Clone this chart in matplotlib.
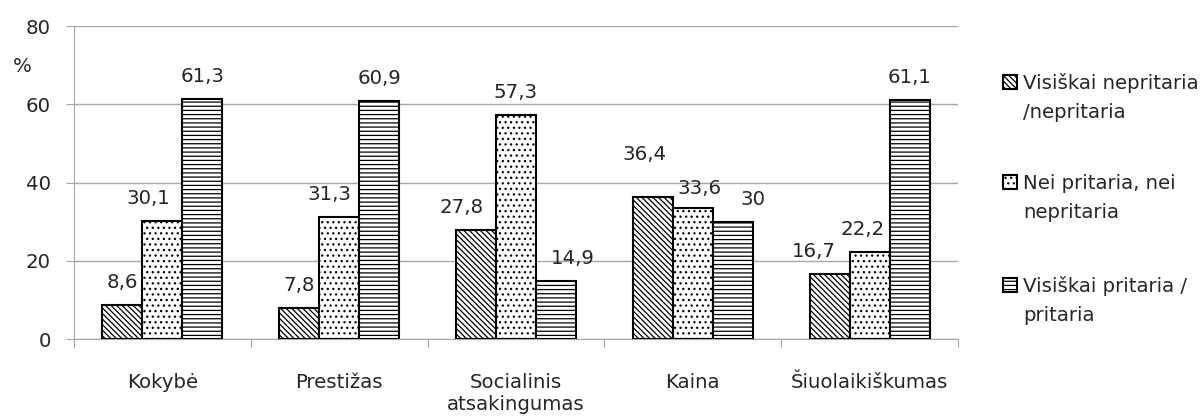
import matplotlib.pyplot as plt
from matplotlib.patches import Rectangle
import numpy as np

categories = ["Kokybė", "Prestižas", "Socialinis\natsakingumas", "Kaina", "Šiuolaikiškumas"]
series_names = ["Visiškai nepritaria\n/nepritaria", "Nei pritaria, nei\nnepritaria", "Visiškai pritaria /\npritaria"]
disagree = [8.6, 7.8, 27.8, 36.4, 16.7]
neutral = [30.1, 31.3, 57.3, 33.6, 22.2]
agree = [61.3, 60.9, 14.9, 30, 61.1]

hatches = ["\\\\\\\\\\\\", "...", "----"]
# label nudges in pixels (dx per category/series, extra lift for one crowded label)
label_dx = [[0, -14, 0], [0, -10, 0], [-14, 0, 17], [-8, 7, 20], [-16, -7, 0]]
label_dy = [[0, 0, 0], [0, 0, 0], [0, 0, 0], [20, -3, 0], [0, 0, 0]]

FS = 14.2
TXT = "#262626"
plt.rcParams["font.family"] = ["DejaVu Sans"]
plt.rcParams["hatch.linewidth"] = 0.9

W, H = 1204, 419
fig = plt.figure(figsize=(W / 100, H / 100), dpi=100)
ax = fig.add_axes([74 / W, 1 - 339 / H, (958 - 74) / W, (339 - 26) / H])

x = np.arange(len(categories))
width = 0.226
series = [disagree, neutral, agree]
for i, vals in enumerate(series):
    b = ax.bar(x + (i - 1) * width, vals, width, color="white", edgecolor="black",
               linewidth=1.5, hatch=hatches[i], zorder=3)
    for j, (rect, v) in enumerate(zip(b, vals)):
        txt = f"{v:g}".replace(".", ",")
        ax.annotate(txt, (rect.get_x() + rect.get_width() / 2, v),
                    xytext=(label_dx[j][i], 17 + label_dy[j][i]), textcoords="offset pixels",
                    ha="center", va="baseline", fontsize=FS, color=TXT)

ax.set_xlim(-0.5, len(categories) - 0.5)
ax.set_ylim(0, 80)
ax.set_yticks(range(0, 81, 20))
ax.yaxis.grid(True, color="#a6a6a6", linewidth=1)
ax.set_axisbelow(True)
for s in ["top", "right"]:
    ax.spines[s].set_visible(False)
ax.spines["left"].set_color("#a6a6a6")
ax.spines["bottom"].set_color("#a6a6a6")
ax.spines["left"].set_bounds(-2.05, 80)

# category ticks on the boundaries, labels at the centres
ax.set_xticks(np.arange(-0.5, len(categories), 1.0))
ax.set_xticklabels([])
ax.set_xticks(x, minor=True)
ax.set_xticklabels(categories, minor=True, fontsize=FS, color=TXT, linespacing=1.2)
ax.tick_params(axis="x", which="major", length=5.8, color="#a6a6a6", direction="out")
ax.tick_params(axis="x", which="minor", length=0, pad=24.5)
ax.tick_params(axis="y", length=5.8, color="#a6a6a6", labelsize=FS, labelcolor=TXT, pad=11)

fig.text(13 / W, 1 - 67 / H, "%", fontsize=FS, color=TXT, ha="left", va="center")

# legend: square swatch next to the first line of each two-line entry
legend_rows = [82, 182, 285]
for name, hatch, yc in zip(series_names, hatches, legend_rows):
    fig.patches.append(Rectangle((1003 / W, 1 - (yc + 7) / H), 14 / W, 14 / H,
                                 transform=fig.transFigure, facecolor="white",
                                 edgecolor="black", linewidth=1.5, hatch=hatch))
    for k, line in enumerate(name.split("\n")):
        fig.text(1023 / W, 1 - (yc + 7 + 29 * k) / H, line, fontsize=FS, color=TXT,
                 ha="left", va="baseline")

fig.savefig("out.png", dpi=100)
